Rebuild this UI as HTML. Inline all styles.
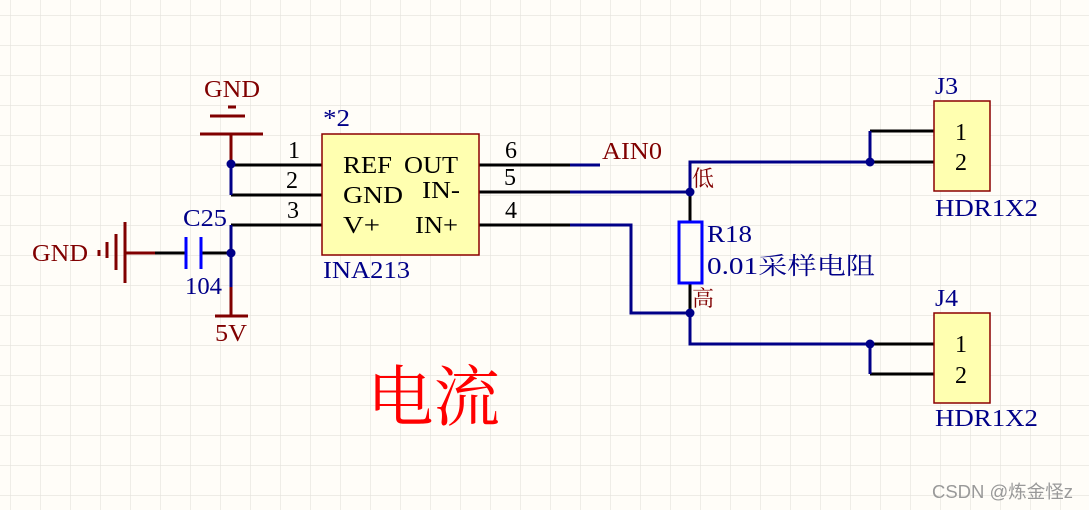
<!DOCTYPE html>
<html><head><meta charset="utf-8"><style>
body{margin:0;background:#fffdf8;}
svg{display:block}
text{font-family:"Liberation Serif","Noto Serif CJK SC",serif;}
</style></head><body>
<svg width="1089" height="510" xmlns="http://www.w3.org/2000/svg">
<defs><pattern id="g" x="10" y="15" width="30" height="30" patternUnits="userSpaceOnUse"><path d="M0 0H30M0 0V30" stroke="#e4e2dc" stroke-width="1.2" fill="none"/></pattern></defs>
<rect width="1089" height="510" fill="#fffdf8"/>
<rect width="1089" height="510" fill="url(#g)"/>
<g stroke-width="3" fill="none">
<g stroke="#800000"><path d="M228 107H236M210 116H245M200 134H263M231 134V164"/>
<path d="M231 287V316M215 316H248"/>
<path d="M125 222V283M116 234V270M107 242V258M99 250V256M125 253H155"/></g>
<g stroke="#000"><path d="M231 165H322M231 195H322M231 225H322M155 253H185M201 253H231"/>
<path d="M479 165H570M479 192H570M479 225H570"/>
<path d="M690 192V222M690 283V313M870 162H934M870 131H934M870 344H934M870 374H934"/></g>
<g stroke="#000088"><path d="M231 164V195M231 225V287M570 165H600M570 192H690V162H870M570 225H631V313H690V344H870M870 131V162M870 344V374"/></g>
<g stroke="#0000ff"><path d="M186 237V269M201 237V269"/><rect x="679" y="222" width="23" height="61"/></g>
</g>
<g fill="#000088"><circle cx="231" cy="164" r="4.5"/><circle cx="231" cy="253" r="4.5"/><circle cx="690" cy="192" r="4.5"/><circle cx="690" cy="313" r="4.5"/><circle cx="870" cy="162" r="4.5"/><circle cx="870" cy="344" r="4.5"/></g>
<rect x="322" y="134" width="157" height="121" fill="#ffffb0" stroke="#8b0000" stroke-width="1.5"/>
<rect x="934" y="101" width="56" height="90" fill="#ffffb0" stroke="#8b0000" stroke-width="1.5"/>
<rect x="934" y="313" width="56" height="90" fill="#ffffb0" stroke="#8b0000" stroke-width="1.5"/>
<g font-size="24" fill="#800000" lengthAdjust="spacingAndGlyphs"><text x="204" y="97" textLength="56" lengthAdjust="spacingAndGlyphs">GND</text><text x="32" y="261" textLength="56" lengthAdjust="spacingAndGlyphs">GND</text><text x="215" y="341" textLength="32" lengthAdjust="spacingAndGlyphs">5V</text><text x="602" y="159" textLength="60" lengthAdjust="spacingAndGlyphs">AIN0</text><text x="692" y="186" font-size="22">低</text><text x="692" y="306" font-size="22">高</text></g>
<g font-size="24" fill="#000088"><text x="323" y="126" textLength="27" lengthAdjust="spacingAndGlyphs">*2</text><text x="183" y="226" textLength="44" lengthAdjust="spacingAndGlyphs">C25</text><text x="185" y="294" textLength="37" lengthAdjust="spacingAndGlyphs">104</text><text x="323" y="278" textLength="87" lengthAdjust="spacingAndGlyphs">INA213</text><text x="707" y="242" textLength="45" lengthAdjust="spacingAndGlyphs">R18</text><text x="707" y="274" textLength="168" lengthAdjust="spacingAndGlyphs">0.01采样电阻</text><text x="935" y="94" textLength="23" lengthAdjust="spacingAndGlyphs">J3</text><text x="935" y="216" textLength="103" lengthAdjust="spacingAndGlyphs">HDR1X2</text><text x="935" y="306" textLength="23" lengthAdjust="spacingAndGlyphs">J4</text><text x="935" y="426" textLength="103" lengthAdjust="spacingAndGlyphs">HDR1X2</text></g>
<g font-size="24" fill="#000"><text x="343" y="173" textLength="49" lengthAdjust="spacingAndGlyphs">REF</text><text x="404" y="173" textLength="54" lengthAdjust="spacingAndGlyphs">OUT</text><text x="343" y="203" textLength="60" lengthAdjust="spacingAndGlyphs">GND</text><text x="422" y="198" textLength="38" lengthAdjust="spacingAndGlyphs">IN-</text><text x="343" y="233" textLength="37" lengthAdjust="spacingAndGlyphs">V+</text><text x="415" y="233" textLength="43" lengthAdjust="spacingAndGlyphs">IN+</text>
<text x="288" y="158">1</text><text x="286" y="188">2</text><text x="287" y="218">3</text><text x="505" y="158">6</text><text x="504" y="185">5</text><text x="505" y="218">4</text>
<text x="955" y="140">1</text><text x="955" y="170">2</text><text x="955" y="352">1</text><text x="955" y="383">2</text></g>
<text x="367" y="420" font-size="66" fill="#ff0000" textLength="133" lengthAdjust="spacingAndGlyphs">电流</text>
<text x="932" y="498" font-size="18" fill="#999" textLength="141" lengthAdjust="spacingAndGlyphs" style="font-family:'Liberation Sans','Noto Sans CJK SC',sans-serif">CSDN @炼金怪z</text>
</svg>
</body></html>
